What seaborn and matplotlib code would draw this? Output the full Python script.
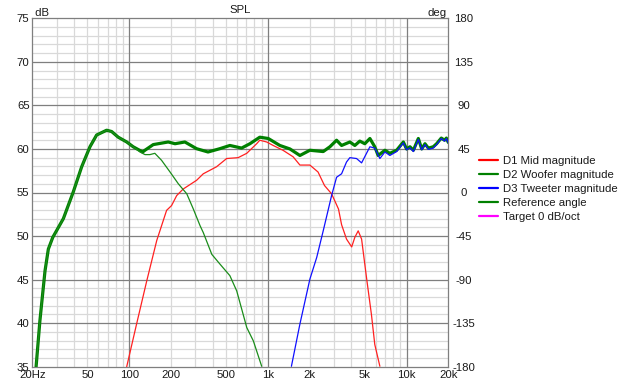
import matplotlib
matplotlib.use("Agg")
import matplotlib.pyplot as plt
from matplotlib.lines import Line2D
import seaborn as sns
import pandas as pd

# ---- data ----
ref_f = [21.3, 22.7, 24.7, 26.1, 28.1, 33.5, 39.5, 45.4, 52.1, 58.2, 68.7, 74.7, 83.3, 95.9, 106.8, 125, 129.8,
         149, 191, 214, 252, 306, 370, 450, 532, 646, 742, 874, 1006, 1220, 1442, 1702, 2008, 2506, 2800, 3128,
         3400, 3900, 4236, 4600, 5000, 5440, 5900, 6240, 6980, 7580, 8480, 9480, 10000, 10580, 11200, 12160,
         12860, 13580, 14360, 15580, 16470, 17800, 18800, 19370, 20000]
ref_db = [35.0, 40.3, 46.0, 48.5, 49.85, 52.0, 55.07, 57.95, 60.25, 61.6, 62.15, 62.0, 61.35, 60.8, 60.25, 59.65, 59.85,
          60.5, 60.8, 60.6, 60.8, 60.03, 59.65, 60.03, 60.4, 60.1, 60.6, 61.35, 61.2, 60.4, 60.0, 59.25, 59.85, 59.7,
          60.25, 61.0, 60.4, 60.8, 60.4, 60.9, 60.6, 61.2, 60.25, 59.25, 59.85, 59.5, 59.85, 60.8, 60.0, 60.25, 59.85,
          61.2, 60.0, 60.6, 60.1, 60.25, 60.6, 61.25, 61.0, 61.25, 60.75]

mid_f = [95.9, 113, 134, 158, 186, 202, 220, 245, 306, 342, 426, 504, 610, 704, 830, 874, 980, 1092, 1284, 1520,
         1702, 2008, 2300, 2560, 2880, 3230, 3400, 3690, 4020, 4236, 4480, 4740, 5140, 5580, 5900, 6420]
mid_db = [35.0, 39.9, 44.9, 49.5, 52.95, 53.5, 54.65, 55.4, 56.4, 57.15, 57.95, 58.9, 59.0, 59.5, 60.6, 61.0, 60.8,
          60.4, 59.85, 59.1, 58.15, 58.15, 57.35, 55.8, 54.85, 53.1, 51.3, 49.65, 48.75, 49.85, 50.6, 49.65, 45.25,
          41.0, 37.55, 35.05]

woofer_f = [21.3, 22.7, 24.7, 26.1, 28.1, 33.5, 39.5, 45.4, 52.1, 58.2, 68.7, 74.7, 83.3, 95.9, 106.8, 119.6, 130,
            141, 153, 171, 197, 226, 260, 290, 324, 342, 394, 450, 532, 596, 704, 786, 902]
woofer_db = [35.0, 40.3, 46.0, 48.5, 49.85, 52.0, 55.07, 57.95, 60.25, 61.6, 62.15, 62.0, 61.35, 60.8, 60.25, 59.65,
             59.35, 59.35, 59.5, 58.7, 57.35, 56.0, 54.85, 53.1, 51.2, 50.4, 47.9, 46.8, 45.45, 43.7, 39.5, 37.95, 35.05]

tw_f = [1478, 1702, 2008, 2250, 2506, 2880, 3128, 3400, 3690, 3900, 4360, 4740, 5440, 5900, 6420, 6980, 7580, 8480,
        9480, 10000, 10580, 11200, 12160, 12860, 13580, 14360, 15580, 16470, 17800, 18800, 19370, 20000]
tw_db = [35.05, 39.9, 45.05, 47.55, 50.6, 54.65, 56.75, 57.15, 58.5, 59.0, 58.9, 58.4, 60.25, 60.1, 58.9, 59.65,
         59.25, 59.7, 60.7, 59.9, 60.15, 59.7, 61.1, 59.9, 60.5, 59.95, 60.1, 60.5, 61.2, 60.9, 61.2, 60.7]

x_ticks = [20, 50, 100, 200, 500, 1000, 2000, 5000, 10000, 20000]
x_labels = ["20Hz", "50", "100", "200", "500", "1k", "2k", "5k", "10k", "20k"]
db_ticks = [35, 40, 45, 50, 55, 60, 65, 70, 75]
deg_ticks = [-180, -135, -90, -45, 0, 45, 90, 135, 180]
legend_labels = ["D1 Mid magnitude", "D2 Woofer magnitude", "D3 Tweeter magnitude", "Reference angle",
                 "Target 0 dB/oct"]

# ---- style ----
sns.set_style("white")
plt.rcParams['font.family'] = ['Liberation Sans', 'DejaVu Sans']
plt.rcParams['axes.unicode_minus'] = False
FS = 8.2
FG = "#1a1a1a"

fig = plt.figure(figsize=(6.26, 3.84), dpi=100)
ax = fig.add_axes([32.3 / 626, (384 - 366.7) / 384, 416 / 626, 348.4 / 384])

ax.set_xscale("log")
ax.set_xlim(20, 20000)
ax.set_ylim(35, 75)

# grid
minor_col = "#d9d9d9"
major_col = "#7f7f7f"
for dec in [10, 100, 1000, 10000]:
    for m in range(2, 10):
        f = dec * m
        if 20 < f < 20000:
            ax.axvline(f, color=minor_col, lw=0.9, zorder=0)
for f in [100, 1000, 10000]:
    ax.axvline(f, color=major_col, lw=0.9, zorder=0.5)
for v in range(36, 75):
    if v % 5:
        ax.axhline(v, color=minor_col, lw=0.9, zorder=0)
for v in range(40, 75, 5):
    ax.axhline(v, color=major_col, lw=0.9, zorder=0.5)

ref_df = pd.DataFrame({"f": ref_f, "dB": ref_db})
mid_df = pd.DataFrame({"f": mid_f, "dB": mid_db})
wf_df = pd.DataFrame({"f": woofer_f, "dB": woofer_db})
tw_df = pd.DataFrame({"f": tw_f, "dB": tw_db})

sns.lineplot(data=ref_df, x="f", y="dB", ax=ax, color="#008000", lw=2.3, sort=False, zorder=3)
sns.lineplot(data=mid_df, x="f", y="dB", ax=ax, color="#ff2020", lw=0.9, sort=False, zorder=4)
sns.lineplot(data=wf_df, x="f", y="dB", ax=ax, color="#1a8c1a", lw=0.9, sort=False, zorder=4)
sns.lineplot(data=tw_df, x="f", y="dB", ax=ax, color="#1010ff", lw=0.9, sort=False, zorder=4)

ax.set_xlabel("")
ax.set_ylabel("")
ax.set_xticks(x_ticks)
ax.set_xticklabels(x_labels)
ax.minorticks_off()
ax.set_xticks([], minor=True)
ax.set_yticks(db_ticks)
ax.tick_params(axis="x", length=0, pad=2.5, labelsize=FS, labelcolor=FG)
ax.tick_params(axis="y", length=0, pad=2, labelsize=FS, labelcolor=FG)
for s in ax.spines.values():
    s.set_color(major_col)
    s.set_linewidth(0.9)

ax2 = ax.twinx()
ax2.set_ylim(-180, 180)
ax2.set_yticks(deg_ticks)
ax2.tick_params(axis="y", length=0, pad=11, labelsize=FS, labelcolor=FG)
for lbl in ax2.get_yticklabels():
    lbl.set_horizontalalignment("center")
for s in ax2.spines.values():
    s.set_visible(False)

ax.set_title("SPL", fontsize=FS, color=FG, pad=4)
ax.text(0.0, 1.0, " dB", transform=ax.transAxes, ha="left", va="bottom", fontsize=FS, color=FG)
ax.text(0.995, 1.0, "deg", transform=ax.transAxes, ha="right", va="bottom", fontsize=FS, color=FG)

handles = [Line2D([], [], color=c, lw=1.6) for c in ["#ff0000", "#008000", "#0000ff", "#008000", "#ff00ff"]]
fig.legend(handles, legend_labels, loc="upper left", bbox_to_anchor=(479 / 626, 1 - 156 / 384),
           frameon=False, fontsize=FS, handlelength=1.7, handletextpad=0.45, labelspacing=0.35,
           borderaxespad=0, borderpad=0, labelcolor=FG)

fig.savefig("out.png", dpi=100)
